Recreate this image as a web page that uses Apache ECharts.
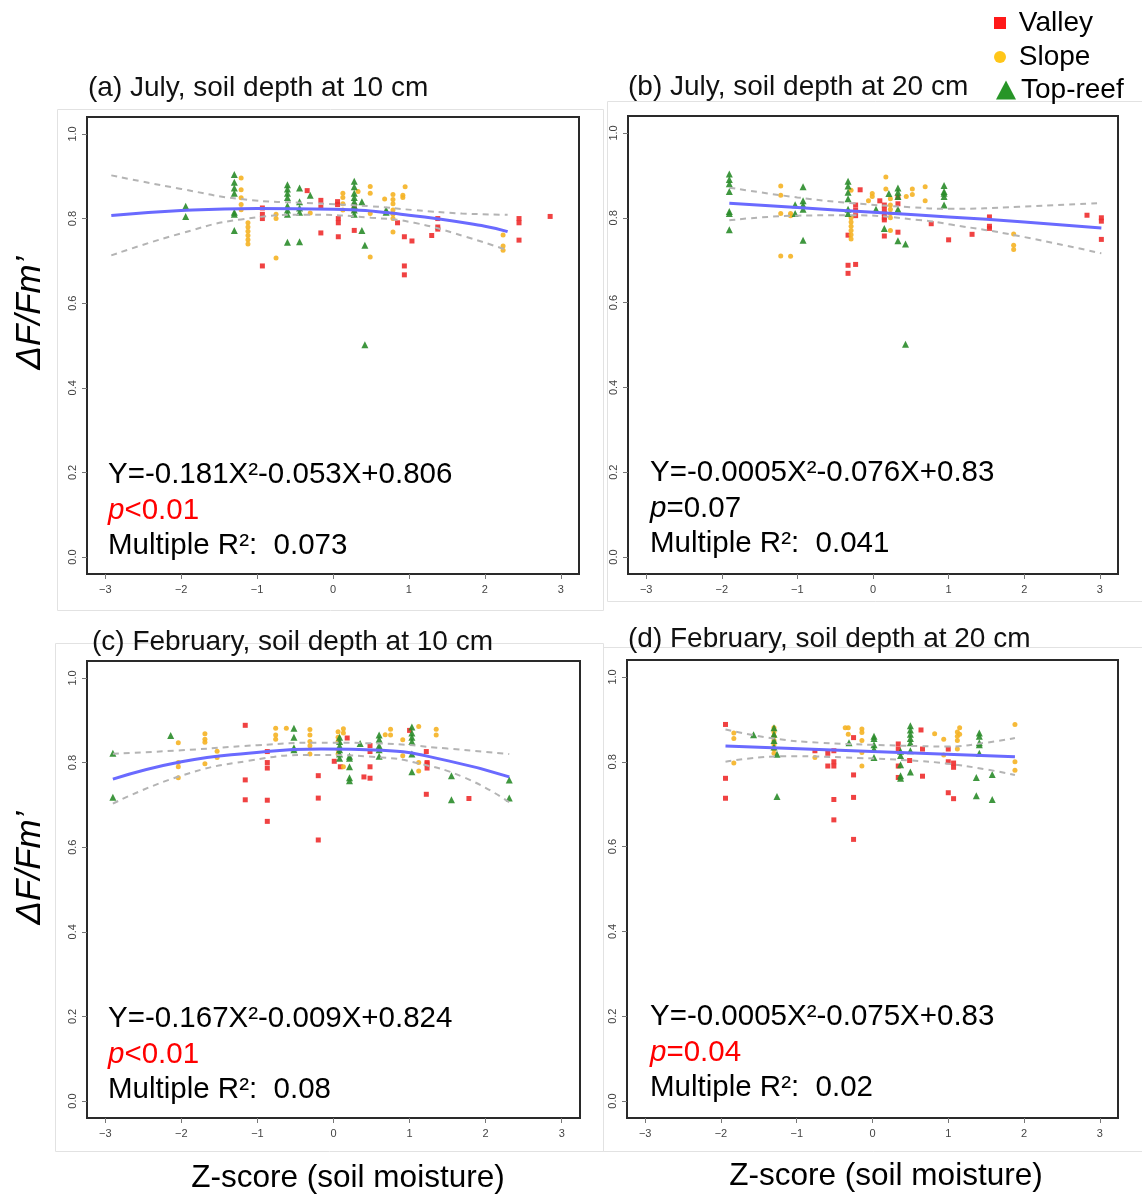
<!DOCTYPE html>
<html>
<head>
<meta charset="utf-8">
<script src="https://cdn.jsdelivr.net/npm/echarts@6/dist/echarts.min.js"></script>
<style>
html,body{margin:0;padding:0;background:#fff;}
#chart{width:1142px;height:1196px;}
</style>
</head>
<body>
<div id="chart"></div>
<script>
// ---------- tick labels ----------
const xTicks = [-3, -2, -1, 0, 1, 2, 3];
const yTicks = [0, 0.2, 0.4, 0.6, 0.8, 1.0];

// ---------- (a) July, 10 cm ----------
const aValley = [[-0.93,0.825],[-0.93,0.81],[-0.93,0.80],[-0.93,0.688],[-0.34,0.866],[-0.16,0.843],[-0.16,0.827],[-0.16,0.766],
  [0.06,0.84],[0.06,0.833],[0.07,0.80],[0.07,0.79],[0.07,0.757],[0.28,0.83],[0.28,0.82],[0.28,0.772],[0.85,0.79],
  [0.94,0.757],[0.94,0.688],[0.94,0.667],[1.04,0.747],[1.30,0.76],[1.38,0.80],[1.38,0.78],[1.38,0.775],
  [2.45,0.80],[2.45,0.79],[2.45,0.749],[2.86,0.805]];
const aSlope = [[-1.21,0.896],[-1.21,0.868],[-1.21,0.849],[-1.21,0.833],[-1.21,0.821],[-1.12,0.79],[-1.12,0.78],[-1.12,0.77],
  [-1.12,0.76],[-1.12,0.75],[-1.12,0.74],[-0.75,0.81],[-0.75,0.80],[-0.75,0.707],[-0.30,0.813],[0.13,0.86],[0.13,0.85],
  [0.13,0.835],[0.13,0.82],[0.33,0.864],[0.49,0.876],[0.49,0.86],[0.49,0.812],[0.49,0.709],[0.68,0.846],[0.79,0.857],
  [0.79,0.845],[0.79,0.835],[0.79,0.82],[0.79,0.81],[0.79,0.80],[0.79,0.768],[0.92,0.855],[0.92,0.85],[0.95,0.875],
  [2.24,0.761],[2.24,0.735],[2.24,0.725]];
const aTopReef = [[-1.94,0.829],[-1.94,0.805],[-1.30,0.904],[-1.30,0.886],[-1.30,0.872],[-1.30,0.86],[-1.30,0.815],[-1.30,0.81],
  [-1.30,0.772],[-0.60,0.88],[-0.60,0.87],[-0.60,0.86],[-0.60,0.85],[-0.60,0.83],[-0.60,0.82],[-0.60,0.81],[-0.60,0.744],
  [-0.44,0.872],[-0.44,0.84],[-0.44,0.825],[-0.44,0.815],[-0.44,0.745],[-0.30,0.855],[0.28,0.888],[0.28,0.875],[0.28,0.86],
  [0.28,0.85],[0.28,0.84],[0.28,0.83],[0.28,0.82],[0.28,0.81],[0.38,0.84],[0.38,0.772],[0.42,0.737],[0.42,0.502],
  [0.70,0.82],[0.70,0.815]];
const aFit = [[-2.92,0.807],[-2,0.819],[-1,0.824],[0,0.822],[1,0.808],[2,0.782],[2.30,0.769]];
const aUpper = [[-2.92,0.902],[-2.0,0.870],[-1.21,0.846],[-0.25,0.836],[0.5,0.829],[1.07,0.820],[1.7,0.812],[2.30,0.809]];
const aLower = [[-2.92,0.713],[-2.0,0.765],[-1.21,0.798],[-0.3,0.809],[0.5,0.802],[1.07,0.790],[1.73,0.758],[2.30,0.725]];

// ---------- (b) July, 20 cm ----------
const bValley = [[-0.33,0.759],[-0.33,0.688],[-0.33,0.669],[-0.23,0.83],[-0.23,0.818],[-0.23,0.805],[-0.23,0.69],[-0.17,0.866],
  [0.09,0.84],[0.15,0.83],[0.15,0.82],[0.15,0.81],[0.15,0.80],[0.15,0.795],[0.15,0.757],[0.33,0.848],[0.33,0.833],
  [0.33,0.766],[0.77,0.786],[1.00,0.748],[1.31,0.761],[1.54,0.802],[1.54,0.78],[1.54,0.775],[2.83,0.806],
  [3.02,0.80],[3.02,0.792],[3.02,0.749]];
const bSlope = [[-1.22,0.875],[-1.22,0.853],[-1.22,0.81],[-1.22,0.71],[-1.09,0.81],[-1.09,0.805],[-1.09,0.709],[-0.29,0.865],
  [-0.29,0.80],[-0.29,0.79],[-0.29,0.78],[-0.29,0.77],[-0.29,0.76],[-0.29,0.75],[-0.06,0.84],[-0.01,0.857],[-0.01,0.85],
  [0.17,0.896],[0.17,0.868],[0.23,0.845],[0.23,0.83],[0.23,0.82],[0.23,0.81],[0.23,0.80],[0.23,0.77],[0.44,0.85],
  [0.52,0.868],[0.52,0.855],[0.69,0.873],[0.69,0.84],[1.86,0.762],[1.86,0.735],[1.86,0.725]];
const bTopReef = [[-1.90,0.903],[-1.90,0.89],[-1.90,0.88],[-1.90,0.862],[-1.90,0.815],[-1.90,0.81],[-1.90,0.772],[-1.03,0.831],
  [-1.03,0.81],[-0.925,0.873],[-0.925,0.84],[-0.925,0.83],[-0.925,0.82],[-0.925,0.747],[-0.33,0.886],[-0.33,0.875],
  [-0.33,0.86],[-0.33,0.845],[-0.33,0.82],[-0.33,0.81],[0.04,0.82],[0.15,0.775],[0.21,0.857],[0.33,0.87],[0.33,0.86],
  [0.33,0.85],[0.33,0.82],[0.33,0.746],[0.43,0.738],[0.43,0.502],[0.94,0.876],[0.94,0.862],[0.94,0.858],[0.94,0.85],[0.94,0.83]];
const bFit = [[-1.90,0.834],[-1,0.824],[0,0.813],[1,0.802],[2,0.790],[3.02,0.776]];
const bUpper = [[-1.90,0.871],[-1.0,0.848],[-0.3,0.835],[0.5,0.825],[1.03,0.821],[1.93,0.826],[3.02,0.835]];
const bLower = [[-1.90,0.794],[-1.0,0.805],[-0.3,0.806],[0.6,0.795],[1.03,0.784],[1.93,0.757],[3.02,0.716]];

// ---------- (c) February, 10 cm ----------
const cValley = [[-1.16,0.888],[-1.16,0.759],[-1.16,0.712],[-0.87,0.826],[-0.87,0.80],[-0.87,0.787],[-0.87,0.711],[-0.87,0.661],
  [-0.20,0.769],[-0.20,0.716],[-0.20,0.617],[0.01,0.803],[0.09,0.79],[0.18,0.858],[0.40,0.766],[0.48,0.84],[0.48,0.826],
  [0.48,0.79],[0.48,0.763],[1.00,0.876],[1.22,0.826],[1.23,0.80],[1.23,0.797],[1.23,0.787],[1.22,0.725],[1.78,0.715]];
const cSlope = [[-2.04,0.847],[-2.04,0.80],[-2.04,0.79],[-2.04,0.764],[-1.69,0.868],[-1.69,0.855],[-1.69,0.848],[-1.69,0.797],
  [-1.53,0.827],[-1.53,0.812],[-0.76,0.881],[-0.76,0.865],[-0.76,0.855],[-0.62,0.881],[-0.31,0.878],[-0.31,0.865],
  [-0.31,0.85],[-0.31,0.84],[-0.31,0.82],[0.06,0.873],[0.06,0.86],[0.06,0.85],[0.06,0.83],[0.06,0.82],[0.13,0.88],
  [0.13,0.87],[0.13,0.79],[0.68,0.866],[0.75,0.879],[0.75,0.865],[0.91,0.854],[0.91,0.816],[1.12,0.885],[1.12,0.80],
  [1.12,0.78],[1.35,0.879],[1.35,0.865]];
const cTopReef = [[-2.90,0.822],[-2.90,0.718],[-2.14,0.864],[-0.52,0.881],[-0.52,0.86],[-0.52,0.835],[-0.52,0.83],[0.08,0.86],
  [0.08,0.85],[0.08,0.84],[0.08,0.83],[0.08,0.82],[0.08,0.81],[0.21,0.815],[0.21,0.81],[0.21,0.79],[0.21,0.764],[0.21,0.757],
  [0.35,0.845],[0.60,0.865],[0.60,0.855],[0.60,0.84],[0.60,0.83],[0.60,0.815],[1.03,0.884],[1.03,0.87],[1.03,0.86],
  [1.03,0.85],[1.03,0.82],[1.03,0.778],[1.55,0.769],[1.55,0.712],[2.31,0.759],[2.31,0.716]];
const cFit = [[-2.9,0.761],[-2.0,0.802],[-1.12,0.822],[-0.16,0.832],[0.63,0.829],[1.51,0.804],[2.31,0.766]];
const cUpper = [[-2.9,0.821],[-2.0,0.829],[-1.0,0.841],[-0.2,0.847],[0.6,0.845],[1.5,0.833],[2.31,0.820]];
const cLower = [[-2.9,0.703],[-2.0,0.769],[-1.12,0.804],[-0.3,0.818],[0.63,0.812],[1.07,0.800],[1.73,0.764],[2.31,0.706]];

// ---------- (d) February, 20 cm ----------
const dValley = [[-1.94,0.888],[-1.94,0.761],[-1.94,0.714],[-0.76,0.826],[-0.59,0.82],[-0.59,0.79],[-0.51,0.826],[-0.51,0.80],
  [-0.51,0.79],[-0.51,0.711],[-0.51,0.663],[-0.25,0.857],[-0.25,0.769],[-0.25,0.716],[-0.25,0.617],[0.34,0.842],[0.34,0.83],
  [0.34,0.79],[0.34,0.763],[0.49,0.803],[0.64,0.875],[0.66,0.83],[0.66,0.766],[1.00,0.83],[1.00,0.80],[1.00,0.727],
  [1.07,0.797],[1.07,0.787],[1.07,0.713]];
const dSlope = [[-1.83,0.868],[-1.83,0.855],[-1.83,0.797],[-1.30,0.88],[-1.30,0.87],[-1.30,0.86],[-1.30,0.85],[-1.30,0.84],
  [-1.30,0.83],[-1.30,0.82],[-0.76,0.81],[-0.32,0.88],[-0.36,0.88],[-0.32,0.865],[-0.14,0.877],[-0.14,0.869],[-0.14,0.85],
  [-0.14,0.822],[-0.14,0.79],[0.82,0.866],[0.94,0.853],[0.94,0.816],[1.12,0.87],[1.12,0.86],[1.12,0.85],[1.12,0.83],
  [1.15,0.88],[1.15,0.865],[1.88,0.888],[1.88,0.80],[1.88,0.78]];
const dTopReef = [[-1.57,0.864],[-1.30,0.88],[-1.30,0.865],[-1.30,0.85],[-1.30,0.835],[-1.26,0.818],[-1.26,0.718],[-0.31,0.845],
  [0.02,0.86],[0.02,0.855],[0.02,0.84],[0.02,0.83],[0.02,0.81],[0.37,0.825],[0.37,0.815],[0.37,0.793],[0.37,0.767],
  [0.37,0.761],[0.50,0.885],[0.50,0.875],[0.50,0.865],[0.50,0.855],[0.50,0.845],[0.50,0.826],[0.50,0.776],[1.41,0.868],
  [1.41,0.86],[1.41,0.845],[1.41,0.84],[1.41,0.82],[1.37,0.763],[1.37,0.72],[1.58,0.77],[1.58,0.711]];
const dFit = [[-1.94,0.837],[0,0.824],[1.88,0.812]];
const dUpper = [[-1.94,0.876],[-1.3,0.855],[-0.7,0.845],[0.0,0.840],[0.63,0.837],[1.0,0.836],[1.5,0.845],[1.88,0.856]];
const dLower = [[-1.94,0.80],[-1.14,0.813],[-0.19,0.809],[0.5,0.803],[0.97,0.796],[1.5,0.782],[1.88,0.769]];

// ---------- text ----------
const panelTitles = ['(a) July, soil depth at 10 cm', '(b) July, soil depth at 20 cm',
                     '(c) February, soil depth at 10 cm', '(d) February, soil depth at 20 cm'];
const equations = ['Y=-0.181X\u00B2-0.053X+0.806', 'Y=-0.0005X\u00B2-0.076X+0.83',
                   'Y=-0.167X\u00B2-0.009X+0.824', 'Y=-0.0005X\u00B2-0.075X+0.83'];
const pTexts = ['<0.01', '=0.07', '<0.01', '=0.04'];
const pSignificant = [true, false, true, true];
const r2Texts = ['0.073', '0.041', '0.08', '0.02'];
const groupNames = ['Valley', 'Slope', 'Top-reef'];
const yAxisName = '\u0394F/Fm\u2019';
const xAxisName = 'Z-score (soil moisture)';

// ---------- build ----------
const FONT = '"Liberation Sans", Arial, Helvetica, sans-serif';
const panels = [
  {valley: aValley, slope: aSlope, top: aTopReef, fit: aFit, up: aUpper, lo: aLower},
  {valley: bValley, slope: bSlope, top: bTopReef, fit: bFit, up: bUpper, lo: bLower},
  {valley: cValley, slope: cSlope, top: cTopReef, fit: cFit, up: cUpper, lo: cLower},
  {valley: dValley, slope: dSlope, top: dTopReef, fit: dFit, up: dUpper, lo: dLower}
];
const gridBoxes = [
  {left: 87, top: 117, width: 492, height: 457},
  {left: 628, top: 116, width: 490, height: 458},
  {left: 87, top: 661, width: 493, height: 457},
  {left: 627, top: 660, width: 491, height: 458}
];
const titlePos = [[88, 88], [628, 87], [92, 642], [628, 639]];
const annoPos = [[108, 475], [650, 473], [108, 1019], [650, 1017]];
const yNamePos = [[30, 313], [30, 868]];
const xNamePos = [[348, 1178], [886, 1176]];
const framesRects = [[57, 109, 546, 501], [607, 101, 540, 500], [55, 643, 548, 508], [603, 647, 545, 504]];

const colValley = '#ee2e2e', colSlope = '#f5b324', colTop = '#2a8c2a';

const grids = [], xAxes = [], yAxes = [], series = [], graphics = [];

framesRects.forEach(r => {
  graphics.push({type: 'rect', shape: {x: r[0] + 0.5, y: r[1] + 0.5, width: r[2], height: r[3]},
    style: {fill: 'none', stroke: '#e2e2e2', lineWidth: 1}, z: 0, silent: true});
});

panels.forEach((p, i) => {
  grids.push(Object.assign({show: true, borderColor: '#2a2a2a', borderWidth: 2, backgroundColor: 'transparent'}, gridBoxes[i]));
  xAxes.push({
    gridIndex: i, type: 'value', min: -3.24, max: 3.24,
    axisLine: {show: false, onZero: false},
    splitLine: {show: false},
    axisTick: {show: true, length: 5, lineStyle: {color: '#777'}, customValues: xTicks},
    axisLabel: {customValues: xTicks, fontSize: 11, color: '#444', margin: 10, fontFamily: FONT,
      formatter: v => (v < 0 ? '\u2212' + Math.abs(v) : String(v))}
  });
  yAxes.push({
    gridIndex: i, type: 'value', min: -0.04, max: 1.04,
    axisLine: {show: false, onZero: false},
    splitLine: {show: false},
    axisTick: {show: true, length: 5, lineStyle: {color: '#777'}, customValues: yTicks},
    axisLabel: {customValues: yTicks, fontSize: 11, color: '#444', margin: 9, rotate: 90, fontFamily: FONT,
      formatter: v => v.toFixed(1)}
  });
  const sc = (name, data, symbol, size, color) => ({
    type: 'scatter', name, xAxisIndex: i, yAxisIndex: i, data, symbol, symbolSize: size,
    itemStyle: {color, opacity: 0.9}, z: 2, silent: true
  });
  series.push(sc('Valley', p.valley, 'rect', 5, colValley));
  series.push(sc('Slope', p.slope, 'circle', 5, colSlope));
  series.push(sc('Top-reef', p.top, 'triangle', 7, colTop));
  const ln = (data, color, width, type) => ({
    type: 'line', xAxisIndex: i, yAxisIndex: i, data, smooth: true, showSymbol: false, symbol: 'none',
    lineStyle: {color, width, type}, z: 4, silent: true
  });
  series.push(ln(p.up, '#b4b4b4', 2, [6, 5]));
  series.push(ln(p.lo, '#b4b4b4', 2, [6, 5]));
  series.push(ln(p.fit, '#6a6aff', 3, 'solid'));

  // title
  graphics.push({type: 'text', x: titlePos[i][0], y: titlePos[i][1], z: 10,
    style: {text: panelTitles[i], fontSize: 28, fontFamily: FONT, fill: '#111', textAlign: 'left', textVerticalAlign: 'middle'}});
  // annotations
  const ax = annoPos[i][0], ay = annoPos[i][1];
  graphics.push({type: 'text', x: ax, y: ay, z: 10,
    style: {text: equations[i], fontSize: 29.5, fontFamily: FONT, fill: '#000', textAlign: 'left', textVerticalAlign: 'middle'}});
  const pCol = pSignificant[i] ? '#ff0000' : '#000';
  graphics.push({type: 'text', x: ax, y: ay + 36, z: 10,
    style: {text: '{i|p}{n|' + pTexts[i] + '}', fill: pCol, textAlign: 'left', textVerticalAlign: 'middle',
      rich: {i: {fontSize: 29.5, fontFamily: FONT, fontStyle: 'italic', fill: pCol},
             n: {fontSize: 29.5, fontFamily: FONT, fill: pCol}}}});
  graphics.push({type: 'text', x: ax, y: ay + 71, z: 10,
    style: {text: 'Multiple R\u00B2:  ' + r2Texts[i], fontSize: 29.5, fontFamily: FONT, fill: '#000', textAlign: 'left', textVerticalAlign: 'middle'}});
});

// axis titles
yNamePos.forEach(pt => {
  graphics.push({type: 'text', x: pt[0], y: pt[1], rotation: Math.PI / 2, z: 10,
    style: {text: yAxisName, fontSize: 35, fontStyle: 'italic', fontFamily: FONT, fill: '#000',
      textAlign: 'center', textVerticalAlign: 'middle'}});
});
xNamePos.forEach(pt => {
  graphics.push({type: 'text', x: pt[0], y: pt[1], z: 10,
    style: {text: xAxisName, fontSize: 31.5, fontFamily: FONT, fill: '#000',
      textAlign: 'center', textVerticalAlign: 'middle'}});
});

const legendBase = {orient: 'vertical', itemGap: 0, selectedMode: false, padding: 0,
  textStyle: {fontSize: 28, color: '#000', fontFamily: FONT, lineHeight: 30}};
const legends = [
  Object.assign({}, legendBase, {left: 994, top: 8, itemWidth: 12, itemHeight: 12,
    data: [{name: groupNames[0], icon: 'rect', itemStyle: {color: '#ff0000'}}], formatter: ' {name}'}),
  Object.assign({}, legendBase, {left: 994, top: 42, itemWidth: 12, itemHeight: 12,
    data: [{name: groupNames[1], icon: 'circle', itemStyle: {color: '#ffc000'}}], formatter: ' {name}'}),
  Object.assign({}, legendBase, {left: 996, top: 75, itemWidth: 20, itemHeight: 19,
    data: [{name: groupNames[2], icon: 'triangle', itemStyle: {color: '#108a10'}}]})
];

const chart = echarts.init(document.getElementById('chart'), null, {renderer: 'canvas'});
chart.setOption({
  animation: false,
  backgroundColor: '#fff',
  grid: grids,
  xAxis: xAxes,
  yAxis: yAxes,
  legend: legends,
  series: series,
  graphic: graphics
});
</script>
</body>
</html>
